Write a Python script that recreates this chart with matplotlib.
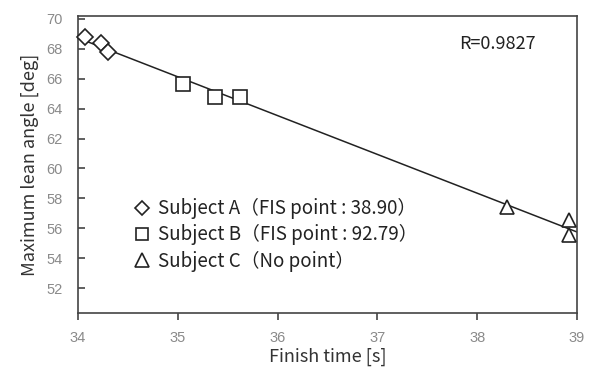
import numpy as np
import matplotlib
matplotlib.use("Agg")
import matplotlib.pyplot as plt
from matplotlib.lines import Line2D

# finish time [s] / max lean angle [deg] per subject
a_time = [34.07, 34.23, 34.30]
a_angle = [68.82, 68.38, 67.78]
b_time = [35.05, 35.37, 35.62]
b_angle = [65.66, 64.81, 64.81]
c_time = [38.30, 38.92, 38.92]
c_angle = [57.44, 56.55, 55.55]

labels = ["Subject A\uff08FIS point : 38.90\uff09",
          "Subject B\uff08FIS point : 92.79\uff09",
          "Subject C\uff08No point\uff09"]
r_text = "R=0.9827"
xticks = [34, 35, 36, 37, 38, 39]
yticks = [52, 54, 56, 58, 60, 62, 64, 66, 68, 70]

plt.rcParams["font.family"] = ["Noto Sans CJK JP", "DejaVu Sans"]

fig = plt.figure(figsize=(5.89, 3.72), dpi=100)
ax = fig.add_axes([0.1324, 0.1586, 0.8472, 0.7984])

# regression line over the whole x range
xs = np.array(a_time + b_time + c_time)
ys = np.array(a_angle + b_angle + c_angle)
k, b = np.polyfit(xs, ys, 1)
lx = np.array([34, 39])
ax.plot(lx, k * lx + b, color="#222222", lw=1.1, zorder=2)

mk = dict(mfc="white", mec="#222222", mew=1.2, ls="none", zorder=3, clip_on=False)
ax.plot(a_time, a_angle, marker="D", ms=8, **mk)
ax.plot(b_time, b_angle, marker="s", ms=9.5, **mk)
ax.plot(c_time, c_angle, marker="^", ms=10.5, **mk)

ax.set_xlim(34, 39)
ax.set_ylim(50.33, 70.2)
ax.set_xticks(xticks)
ax.set_yticks(yticks)
ax.tick_params(axis="x", direction="out", length=5, width=1.2, pad=8,
               labelsize=10.5, labelcolor="#8a8a8a", color="#444444")
ax.tick_params(axis="y", direction="in", length=5, width=1.2, pad=11,
               labelsize=10.5, labelcolor="#8a8a8a", color="#444444")
for tl in ax.get_xticklabels() + ax.get_yticklabels():
    tl.set_family(["Liberation Sans"])
for s in ax.spines.values():
    s.set_color("#444444")
    s.set_linewidth(1.2)

ax.set_xlabel("Finish time [s]", fontsize=13, color="#333333", labelpad=2)
ax.set_ylabel("Maximum lean angle [deg]", fontsize=13, color="#333333", labelpad=5)

ax.text(0.84, 0.906, r_text, transform=ax.transAxes, fontsize=13,
        color="#222222", ha="center", va="center")

handles = [Line2D([], [], marker=m, ms=s, mfc="white", mec="#222222", mew=1.2, ls="none")
           for m, s in [("D", 7.5), ("s", 8.5), ("^", 10)]]
ax.legend(handles, labels, loc="upper left", bbox_to_anchor=(0.107, 0.387),
          frameon=False, fontsize=13.5, handletextpad=0.3, labelspacing=0.28,
          handlelength=1.1, borderaxespad=0, borderpad=0, labelcolor="#222222")

fig.savefig("out.png", dpi=100)
